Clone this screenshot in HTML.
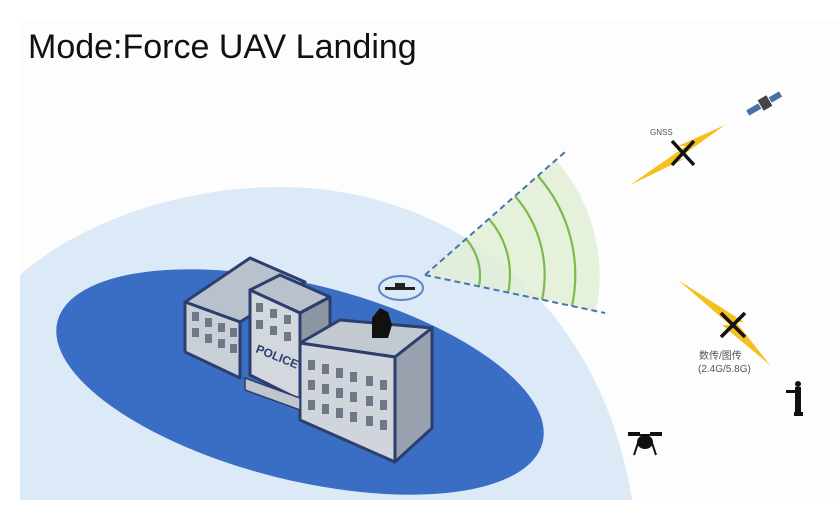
<!DOCTYPE html>
<html><head><meta charset="utf-8"><style>
html,body{margin:0;padding:0;background:#fff;overflow:hidden;}
svg{display:block;}
</style></head><body>
<svg width="840" height="529" viewBox="0 0 840 529" xmlns="http://www.w3.org/2000/svg">
<defs><clipPath id="c"><rect x="20" y="20" width="820" height="480"/></clipPath></defs>
<rect x="20" y="20" width="820" height="482" fill="#fdfdfd"/>
<text x="28" y="58" font-family="Liberation Sans, sans-serif" font-size="34" fill="#111">Mode:Force UAV Landing</text>
<g clip-path="url(#c)">
<path d="M20,275 C80,222 180,187 280,187 C450,187 600,300 632,500 L20,500 Z" fill="#dce9f6"/>
<ellipse cx="300" cy="382" rx="250" ry="98" transform="rotate(14 300 382)" fill="#3a6ec4"/>
</g>
<path d="M425,275 L556,160 A175,175 0 0 1 596,311 Z" fill="#e2efd6" opacity="0.85"/>
<g fill="none" stroke="#7cba4c" stroke-width="2.2">
<path d="M466,239 A55,55 0 0 1 479,286"/>
<path d="M489,219 A85,85 0 0 1 508,293"/>
<path d="M515,196 A120,120 0 0 1 542,300"/>
<path d="M538,176 A150,150 0 0 1 572,306"/>
</g>
<g stroke="#4a72b4" stroke-width="2" stroke-dasharray="6,4" fill="none">
<line x1="425" y1="275" x2="565" y2="152"/>
<line x1="425" y1="275" x2="605" y2="313"/>
</g>
<g stroke="#2c3e6e" stroke-width="3" stroke-linejoin="round">
<polygon points="185,302 250,258 305,282 240,322" fill="#b9c1cc"/>
<polygon points="185,302 240,322 240,378 185,352" fill="#c9cfd7"/>
<polygon points="250,290 280,275 330,297 300,313" fill="#b9c1cc"/>
<polygon points="250,290 300,313 300,400 250,375" fill="#d3d8de"/>
<polygon points="300,313 330,297 330,330 300,345" fill="#8d96a3"/>
<polygon points="300,343 340,320 432,328 395,357" fill="#c3c9d1"/>
<polygon points="300,343 395,357 395,462 300,420" fill="#d0d5dc"/>
<polygon points="395,357 432,328 432,428 395,462" fill="#98a1ad"/>
</g>
<g fill="#6e7888">
<rect x="192" y="312" width="7" height="9"/><rect x="205" y="318" width="7" height="9"/><rect x="218" y="323" width="7" height="9"/><rect x="230" y="328" width="7" height="9"/>
<rect x="192" y="328" width="7" height="9"/><rect x="205" y="334" width="7" height="9"/><rect x="218" y="339" width="7" height="9"/><rect x="230" y="344" width="7" height="9"/>
<rect x="256" y="303" width="7" height="9"/><rect x="270" y="309" width="7" height="9"/><rect x="284" y="315" width="7" height="9"/>
<rect x="256" y="320" width="7" height="9"/><rect x="270" y="326" width="7" height="9"/><rect x="284" y="332" width="7" height="9"/>
<rect x="308" y="360" width="7" height="10"/><rect x="322" y="364" width="7" height="10"/><rect x="336" y="368" width="7" height="10"/><rect x="350" y="372" width="7" height="10"/><rect x="366" y="376" width="7" height="10"/><rect x="380" y="380" width="7" height="10"/>
<rect x="308" y="380" width="7" height="10"/><rect x="322" y="384" width="7" height="10"/><rect x="336" y="388" width="7" height="10"/><rect x="350" y="392" width="7" height="10"/><rect x="366" y="396" width="7" height="10"/><rect x="380" y="400" width="7" height="10"/>
<rect x="308" y="400" width="7" height="10"/><rect x="322" y="404" width="7" height="10"/><rect x="336" y="408" width="7" height="10"/><rect x="350" y="412" width="7" height="10"/><rect x="366" y="416" width="7" height="10"/><rect x="380" y="420" width="7" height="10"/>
</g>
<text x="255" y="352" font-family="Liberation Sans, sans-serif" font-weight="bold" font-size="12" fill="#2c3e6e" transform="rotate(22 255 352)">POLICE</text>
<polygon points="245,378 300,398 300,410 245,390" fill="#c0c6ce" stroke="#2c3e6e" stroke-width="1.5"/>
<path d="M372,338 L372,318 L380,308 L388,312 L392,325 L388,338 Z" fill="#111"/>
<ellipse cx="401" cy="288" rx="22" ry="12" fill="none" stroke="#5b86c8" stroke-width="2"/>
<rect x="385" y="287" width="30" height="3" fill="#222"/><rect x="395" y="283" width="10" height="6" fill="#222"/>
<polygon points="630,185 686,146 678,146 725,125 676,160 684,159" fill="#f5c01c"/>
<text x="650" y="135" font-family="Liberation Sans, sans-serif" font-size="8" fill="#555">GNSS</text>
<g stroke="#111" stroke-width="3.5"><line x1="672" y1="141" x2="694" y2="165"/><line x1="694" y1="141" x2="672" y2="165"/></g>
<g transform="rotate(-30 765 103)"><rect x="745" y="100" width="14" height="6" fill="#4a6fa8"/><rect x="760" y="97" width="10" height="12" fill="#444"/><rect x="771" y="100" width="12" height="6" fill="#4a6fa8"/></g>
<polygon points="678,280 730,325 722,325 770,365 736,322 744,322" fill="#f5c01c"/>
<g stroke="#111" stroke-width="3.5"><line x1="721" y1="313" x2="745" y2="337"/><line x1="745" y1="313" x2="721" y2="337"/></g>
<text x="699" y="359" font-family="Liberation Sans, 'Noto Sans CJK SC', sans-serif" font-size="10" fill="#555">数传/图传</text>
<text x="698" y="372" font-family="Liberation Sans, sans-serif" font-size="10" fill="#555">(2.4G/5.8G)</text>
<g fill="#111"><circle cx="798" cy="384" r="3"/><rect x="795" y="387" width="6" height="25"/><rect x="786" y="390" width="10" height="3"/><rect x="794" y="412" width="9" height="4"/></g>
<g stroke="#111" stroke-width="2" fill="#111">
<line x1="628" y1="435" x2="662" y2="435"/><line x1="628" y1="433" x2="640" y2="433"/><line x1="650" y1="433" x2="662" y2="433"/>
<ellipse cx="645" cy="442" rx="7" ry="6"/><line x1="638" y1="443" x2="634" y2="455"/><line x1="652" y1="443" x2="656" y2="455"/>
</g>
</svg>
</body></html>
